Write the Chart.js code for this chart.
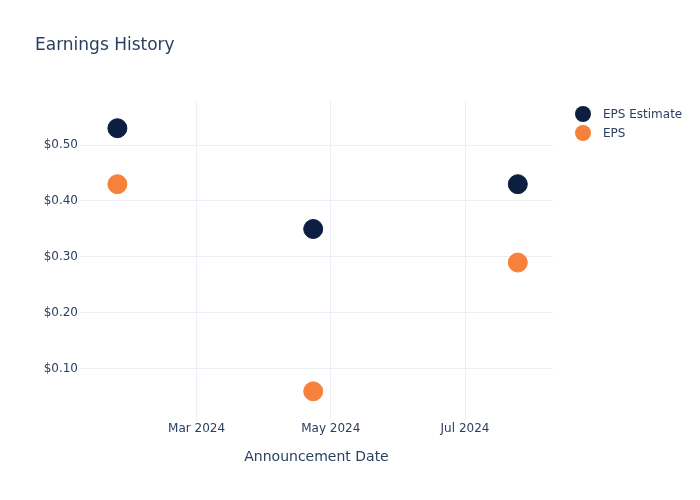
<!DOCTYPE html>
<html>
<head>
<meta charset="utf-8">
<script src="https://cdn.jsdelivr.net/npm/chart.js@4.4.1/dist/chart.umd.min.js"></script>
<style>
  html, body { margin: 0; padding: 0; background: #fff; }
  #wrap { width: 700px; height: 500px; }
</style>
</head>
<body>
<div id="wrap"><canvas id="chart" width="700" height="500"></canvas></div>
<script>
// data
const announceDates = ["2024-01-25", "2024-04-23", "2024-07-25"];
const epsEstimate = [0.53, 0.35, 0.43];
const epsActual = [0.43, 0.06, 0.29];
const xTickDates = ["2024-03-01", "2024-05-01", "2024-07-01"];
const xTickLabels = ["Mar 2024", "May 2024", "Jul 2024"];
const yTicks = [0.1, 0.2, 0.3, 0.4, 0.5];

const toMs = s => Date.parse(s + "T00:00:00Z");
const textColor = "#2a3f5f";
const gridColor = "#ebf0f8";
const font = "'DejaVu Sans', 'Open Sans', sans-serif";

// title + legend drawn like plotly
const extras = {
  id: "extras",
  afterDraw(chart) {
    const ctx = chart.ctx;
    ctx.save();
    ctx.fillStyle = textColor;
    ctx.font = "17px " + font;
    ctx.textBaseline = "middle";
    ctx.textAlign = "left";
    ctx.fillText("Earnings History", 35, 45.5);

    ctx.font = "12px " + font;
    chart.data.datasets.forEach((ds, i) => {
      const y = 114 + i * 19;
      ctx.beginPath();
      ctx.arc(583, y, 8, 0, Math.PI * 2);
      ctx.fillStyle = ds.backgroundColor;
      ctx.fill();
      ctx.fillStyle = textColor;
      ctx.fillText(ds.label, 603, y + 1);
    });
    ctx.restore();
  }
};

new Chart(document.getElementById("chart").getContext("2d"), {
  type: "scatter",
  data: {
    datasets: [
      {
        label: "EPS Estimate",
        data: announceDates.map((d, i) => ({ x: toMs(d), y: epsEstimate[i] })),
        backgroundColor: "#0c1f40",
        borderColor: "#0c1f40",
        pointRadius: 9.5,
        pointHoverRadius: 9.5
      },
      {
        label: "EPS",
        data: announceDates.map((d, i) => ({ x: toMs(d), y: epsActual[i] })),
        backgroundColor: "#f6813a",
        borderColor: "#f6813a",
        pointRadius: 9.5,
        pointHoverRadius: 9.5
      }
    ]
  },
  options: {
    responsive: false,
    animation: false,
    layout: { padding: { left: 0, top: 101, right: 147, bottom: 30 } },
    plugins: {
      legend: { display: false },
      tooltip: { enabled: false },
      title: { display: false }
    },
    scales: {
      x: {
        type: "linear",
        min: toMs("2024-01-08"),
        max: toMs("2024-08-10"),
        afterBuildTicks: axis => {
          axis.ticks = xTickDates.map(d => ({ value: toMs(d) }));
        },
        afterFit: axis => { axis.height = 49; },
        ticks: {
          color: textColor,
          font: { family: font, size: 12 },
          padding: 1,
          maxRotation: 0,
          autoSkip: false,
          callback: v => xTickLabels[xTickDates.findIndex(d => toMs(d) === v)]
        },
        grid: { color: gridColor, drawTicks: false },
        border: { display: false },
        title: {
          display: true,
          text: "Announcement Date",
          color: textColor,
          font: { family: font, size: 14 }
        }
      },
      y: {
        min: 0.007,
        max: 0.5786,
        afterBuildTicks: axis => {
          axis.ticks = yTicks.map(v => ({ value: v }));
        },
        afterFit: axis => { axis.width = 80; },
        ticks: {
          color: textColor,
          font: { family: font, size: 12 },
          padding: 2,
          callback: v => "$" + v.toFixed(2)
        },
        grid: { color: gridColor, drawTicks: false },
        border: { display: false }
      }
    }
  },
  plugins: [extras]
});
</script>
</body>
</html>
